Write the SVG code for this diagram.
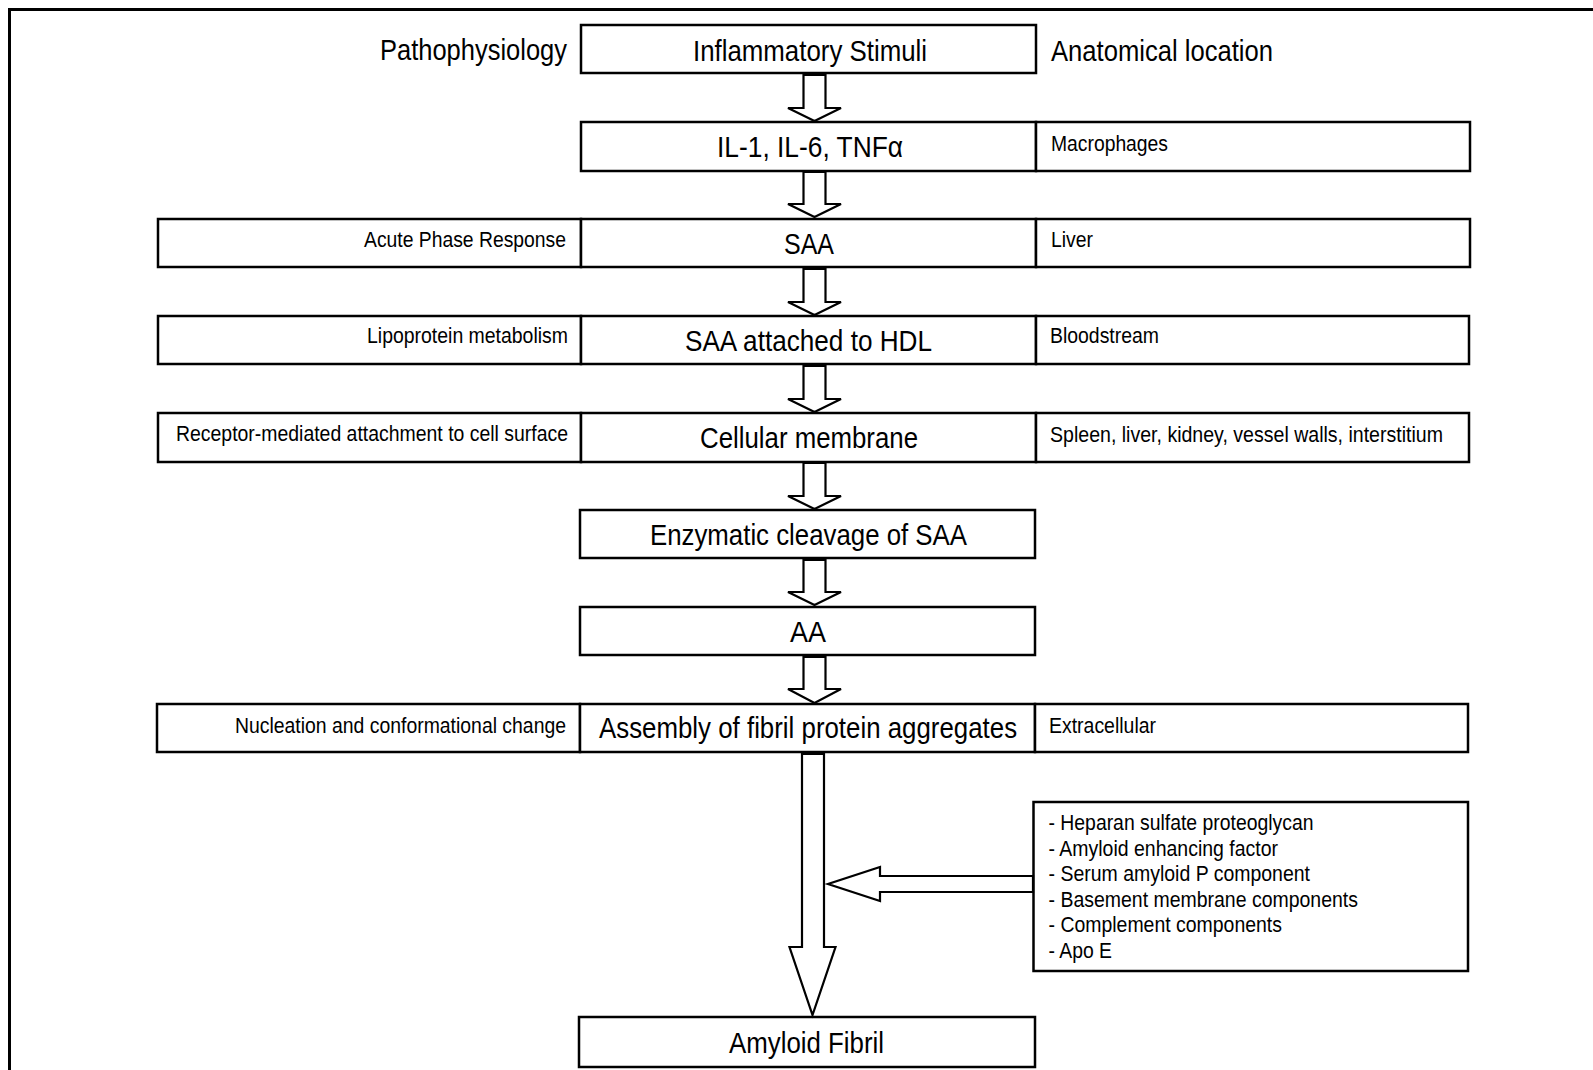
<svg xmlns="http://www.w3.org/2000/svg" width="1593" height="1070" viewBox="0 0 1593 1070">
<style>
.box{fill:#fff;stroke:#000;stroke-width:2.5}
.arr{fill:#fff;stroke:#000;stroke-width:2.2;stroke-linejoin:miter}
.big{font-family:"Liberation Sans",Arial,sans-serif;font-size:30px;fill:#000}
.sm{font-family:"Liberation Sans",Arial,sans-serif;font-size:22px;fill:#000}
</style>
<rect x="0" y="0" width="1593" height="1070" fill="#fff"/>
<path d="M9.5 1070 V9.5 H1593" fill="none" stroke="#000" stroke-width="3"/>

<g id="headers">
<text class="big" x="380" y="60" textLength="187" lengthAdjust="spacingAndGlyphs">Pathophysiology</text>
<text class="big" x="1051" y="61" textLength="222" lengthAdjust="spacingAndGlyphs">Anatomical location</text>
</g>

<g id="n-inflammatory">
<rect class="box" x="581" y="25" width="455" height="48"/>
<text class="big" x="693" y="61" textLength="234" lengthAdjust="spacingAndGlyphs">Inflammatory Stimuli</text>
</g>

<g id="n-cytokines">
<rect class="box" x="581" y="122" width="455" height="49"/>
<text class="big" x="717" y="157" textLength="186" lengthAdjust="spacingAndGlyphs">IL-1, IL-6, TNFα</text>
</g>
<g id="n-macrophages">
<rect class="box" x="1036" y="122" width="434" height="49"/>
<text class="sm" x="1051" y="150.5" textLength="117" lengthAdjust="spacingAndGlyphs">Macrophages</text>
</g>

<g id="n-acute">
<rect class="box" x="158" y="219" width="423" height="48"/>
<text class="sm" x="364" y="247" textLength="202" lengthAdjust="spacingAndGlyphs">Acute Phase Response</text>
</g>
<g id="n-saa">
<rect class="box" x="581" y="219" width="455" height="48"/>
<text class="big" x="784" y="254" textLength="50" lengthAdjust="spacingAndGlyphs">SAA</text>
</g>
<g id="n-liver">
<rect class="box" x="1036" y="219" width="434" height="48"/>
<text class="sm" x="1051" y="247" textLength="42" lengthAdjust="spacingAndGlyphs">Liver</text>
</g>

<g id="n-lipo">
<rect class="box" x="158" y="316" width="423" height="48"/>
<text class="sm" x="367" y="343" textLength="201" lengthAdjust="spacingAndGlyphs">Lipoprotein metabolism</text>
</g>
<g id="n-saahdl">
<rect class="box" x="581" y="316" width="455" height="48"/>
<text class="big" x="685" y="351" textLength="247" lengthAdjust="spacingAndGlyphs">SAA attached to HDL</text>
</g>
<g id="n-blood">
<rect class="box" x="1036" y="316" width="433" height="48"/>
<text class="sm" x="1050" y="343" textLength="109" lengthAdjust="spacingAndGlyphs">Bloodstream</text>
</g>

<g id="n-receptor">
<rect class="box" x="158" y="413" width="423" height="49"/>
<text class="sm" x="176" y="441" textLength="392" lengthAdjust="spacingAndGlyphs">Receptor-mediated attachment to cell surface</text>
</g>
<g id="n-membrane">
<rect class="box" x="581" y="413" width="455" height="49"/>
<text class="big" x="700" y="448" textLength="218" lengthAdjust="spacingAndGlyphs">Cellular membrane</text>
</g>
<g id="n-spleen">
<rect class="box" x="1036" y="413" width="433" height="49"/>
<text class="sm" x="1050" y="442" textLength="393" lengthAdjust="spacingAndGlyphs">Spleen, liver, kidney, vessel walls, interstitium</text>
</g>

<g id="n-enzymatic">
<rect class="box" x="580" y="510" width="455" height="48"/>
<text class="big" x="650" y="545" textLength="317" lengthAdjust="spacingAndGlyphs">Enzymatic cleavage of SAA</text>
</g>

<g id="n-aa">
<rect class="box" x="580" y="607" width="455" height="48"/>
<text class="big" x="790" y="642" textLength="36" lengthAdjust="spacingAndGlyphs">AA</text>
</g>

<g id="n-nucleation">
<rect class="box" x="157" y="704" width="423" height="48"/>
<text class="sm" x="235" y="732.5" textLength="331" lengthAdjust="spacingAndGlyphs">Nucleation and conformational change</text>
</g>
<g id="n-assembly">
<rect class="box" x="580" y="704" width="455" height="48"/>
<text class="big" transform="translate(599,738) scale(0.862,1)" x="0" y="0" textLength="485" lengthAdjust="spacingAndGlyphs">Assembly of fibril protein aggregates</text>
</g>
<g id="n-extra">
<rect class="box" x="1035" y="704" width="433" height="48"/>
<text class="sm" x="1049" y="733" textLength="107" lengthAdjust="spacingAndGlyphs">Extracellular</text>
</g>

<g id="n-factors">
<rect class="box" x="1033.5" y="802" width="434.5" height="169"/>
<text class="sm" x="1048.5" y="830" textLength="265" lengthAdjust="spacingAndGlyphs">- Heparan sulfate proteoglycan</text>
<text class="sm" x="1048.5" y="855.7" textLength="229.5" lengthAdjust="spacingAndGlyphs">- Amyloid enhancing factor</text>
<text class="sm" x="1048.5" y="881" textLength="261.5" lengthAdjust="spacingAndGlyphs">- Serum amyloid P component</text>
<text class="sm" x="1048.5" y="906.7" textLength="309.5" lengthAdjust="spacingAndGlyphs">- Basement membrane components</text>
<text class="sm" x="1048.5" y="932" textLength="233.5" lengthAdjust="spacingAndGlyphs">- Complement components</text>
<text class="sm" x="1048.5" y="958" textLength="63.5" lengthAdjust="spacingAndGlyphs">- Apo E</text>
</g>

<g id="n-fibril">
<rect class="box" x="579" y="1017" width="456" height="50"/>
<text class="big" x="729" y="1053" textLength="155" lengthAdjust="spacingAndGlyphs">Amyloid Fibril</text>
</g>

<g id="connectors">
<polygon class="arr" points="803.5,75 825.5,75 825.5,108 841,108 814.5,121 788,108 803.5,108"/>
<polygon class="arr" points="803.5,172 825.5,172 825.5,204 841,204 814.5,217 788,204 803.5,204"/>
<polygon class="arr" points="803.5,269 825.5,269 825.5,302 841,302 814.5,315 788,302 803.5,302"/>
<polygon class="arr" points="803.5,366 825.5,366 825.5,399 841,399 814.5,412 788,399 803.5,399"/>
<polygon class="arr" points="803.5,463 825.5,463 825.5,496 841,496 814.5,509 788,496 803.5,496"/>
<polygon class="arr" points="803.5,560 825.5,560 825.5,592 841,592 814.5,605 788,592 803.5,592"/>
<polygon class="arr" points="803.5,657 825.5,657 825.5,689 841,689 814.5,703 788,689 803.5,689"/>
<polygon class="arr" points="802,754 824,754 824,947 835.5,947 812.5,1015 789.5,947 802,947"/>
<polygon class="arr" points="1033,876 880,876 880,867 828,884 880,901 880,892 1033,892"/>
</g>
</svg>
